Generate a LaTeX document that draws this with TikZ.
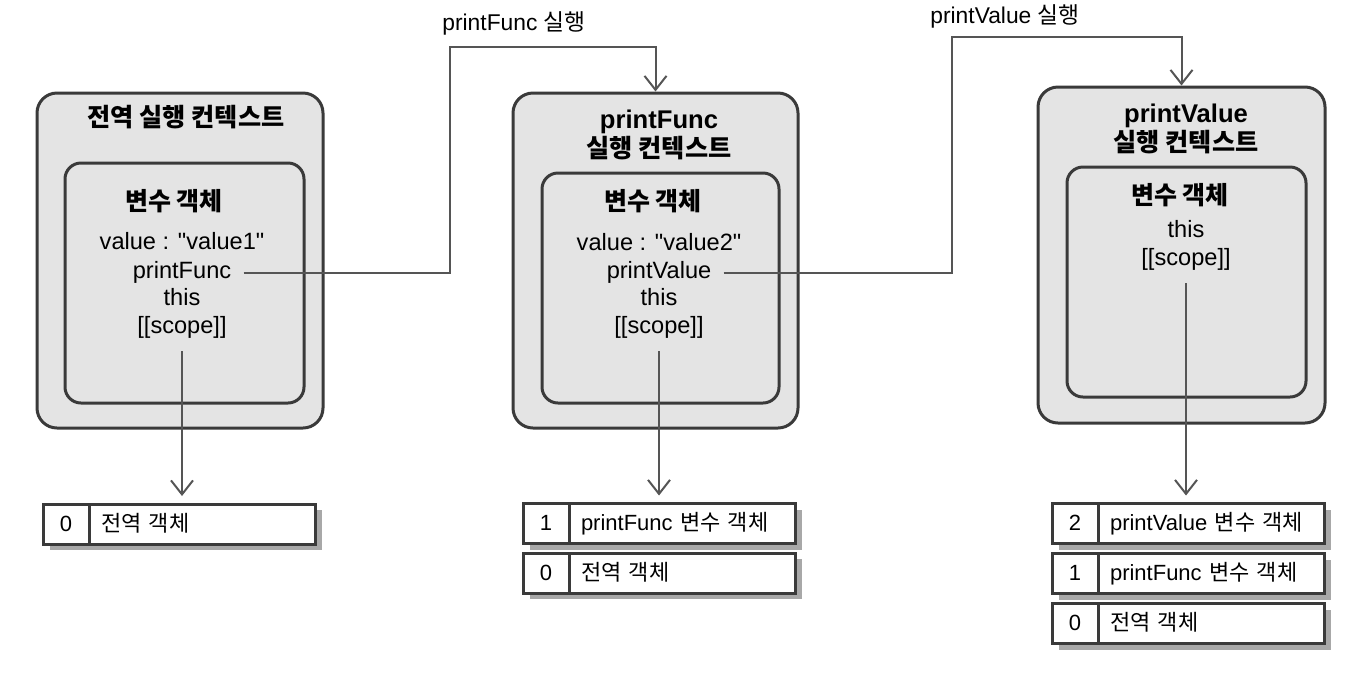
\documentclass[tikz,border=0pt]{standalone}
\usepackage{fontspec}
\setmainfont{Liberation Sans}[Ligatures=TeXOff]
\newfontfamily\kr{Noto Sans CJK KR}
\usetikzlibrary{arrows.meta,shadows}

\definecolor{ctxfill}{RGB}{228,228,228}
\definecolor{ctxline}{RGB}{58,58,58}
\definecolor{wireline}{RGB}{85,85,85}
\definecolor{shade}{RGB}{168,168,168}

\begin{document}
\begin{tikzpicture}[x=0.5pt, y=-0.5pt,
  >={Straight Barb[length=7pt,width=11pt]},
  ctx/.style={draw=ctxline, line width=1.5pt, fill=ctxfill, rounded corners=10pt, inner sep=0pt},
  vobox/.style={draw=ctxline, line width=1.5pt, fill=ctxfill, rounded corners=8pt, inner sep=0pt},
  ctxtitle/.style={font=\bfseries\fontsize{12.8}{14.5}\selectfont, align=center, inner sep=0pt},
  votitle/.style={font=\bfseries\fontsize{12.5}{14}\selectfont, inner sep=0pt},
  entry/.style={font=\fontsize{11.8}{14}\selectfont, inner sep=1pt, text height=0.75em, text depth=0.25em},
  calllabel/.style={font=\fontsize{11.4}{13}\selectfont, anchor=west, inner sep=0pt, text height=0.75em, text depth=0.25em},
  wire/.style={draw=wireline, line width=1pt},
  cellbase/.style={draw=ctxline, line width=1.5pt, fill=white, minimum height=20pt, outer sep=0pt,
    general shadow={fill=shade, shadow xshift=3.5pt, shadow yshift=-3pt},
    font=\fontsize{11}{13}\selectfont, text height=0.8em, text depth=0.1em},
  numcell/.style={cellbase, anchor=west, minimum width=23pt, inner sep=0pt},
  namecell/.style={cellbase, anchor=west, inner xsep=6pt, inner ysep=0pt, text width=101pt, align=left}]

\useasboundingbox (0,0) rectangle (1358,676);

% global context
\node [ctx, minimum width=143pt, minimum height=167.5pt] (ec1) at (180,260.5) {};
\node [vobox, minimum width=119.5pt, minimum height=120pt] (vo1) at (184.5,283) {};
\node [ctxtitle] (ec1t) at (186,117) {\kr\fontsize{12.6}{15}\selectfont 전역 실행 컨텍스트};
\node [votitle] (vo1t) at (174,201) {\kr 변수 객체};
\node [entry] (v1val) at (182,244) {value : "value1"};
\node [entry] (v1fn) at (182,273) {printFunc};
\node [entry] (v1this) at (182,300) {this};
\node [entry] (v1scope) at (182,328) {[[scope]]};

% printFunc context
\node [ctx, minimum width=142.5pt, minimum height=167.5pt] (ec2) at (655.5,260.5) {};
\node [vobox, minimum width=118.5pt, minimum height=115pt] (vo2) at (660.5,288) {};
\node [ctxtitle] (ec2t) at (659,134.5) {printFunc\\{\kr\fontsize{12.6}{14}\selectfont 실행 컨텍스트}};
\node [votitle] (vo2t) at (653,201) {\kr 변수 객체};
\node [entry] (v2val) at (659,245) {value : "value2"};
\node [entry] (v2fn) at (659,273) {printValue};
\node [entry] (v2this) at (659,300) {this};
\node [entry] (v2scope) at (659,328) {[[scope]]};

% printValue context
\node [ctx, minimum width=143.5pt, minimum height=168pt] (ec3) at (1181.5,255) {};
\node [vobox, minimum width=119.5pt, minimum height=115pt] (vo3) at (1186.5,282) {};
\node [ctxtitle] (ec3t) at (1186,128.5) {printValue\\{\kr\fontsize{12.6}{14}\selectfont 실행 컨텍스트}};
\node [votitle] (vo3t) at (1180,195) {\kr 변수 객체};
\node [entry] (v3this) at (1186,232) {this};
\node [entry] (v3scope) at (1186,260) {[[scope]]};

% scope chains
\node [numcell] (s1n0) at (43,524) {0};
\node [namecell] (s1l0) at (s1n0.east) {\kr 전역 객체};

\node [numcell] (s2n1) at (523,523.5) {1};
\node [namecell] (s2l1) at (s2n1.east) {printFunc {\kr 변수 객체}};
\node [numcell] (s2n0) at (523,573) {0};
\node [namecell] (s2l0) at (s2n0.east) {\kr 전역 객체};

\node [numcell] (s3n2) at (1052,523.5) {2};
\node [namecell] (s3l2) at (s3n2.east) {printValue {\kr 변수 객체}};
\node [numcell] (s3n1) at (1052,573.5) {1};
\node [namecell] (s3l1) at (s3n1.east) {printFunc {\kr 변수 객체}};
\node [numcell] (s3n0) at (1052,623.5) {0};
\node [namecell] (s3l0) at (s3n0.east) {\kr 전역 객체};

% calls
\coordinate (call1) at (450,47);
\coordinate (call2) at (952,37);
\node [calllabel] (call1t) at (442,25) {printFunc {\kr 실행}};
\node [calllabel] (call2t) at (930,18) {printValue {\kr 실행}};

\draw[wire, ->, shorten <=5pt] (v1fn.east) -| (call1) -| (ec2.north);
\draw[wire, ->, shorten <=5pt] (v2fn.east) -| (call2) -| (ec3.north);

\draw[wire, ->, shorten <=5.5pt, shorten >=4pt] (v1scope.south) -- (v1scope.south |- s1l0.north);
\draw[wire, ->, shorten <=5.5pt, shorten >=4pt] (v2scope.south) -- (v2scope.south |- s2l1.north);
\draw[wire, ->, shorten <=5.5pt, shorten >=4pt] (v3scope.south) -- (v3scope.south |- s3l2.north);
\end{tikzpicture}
\end{document}
